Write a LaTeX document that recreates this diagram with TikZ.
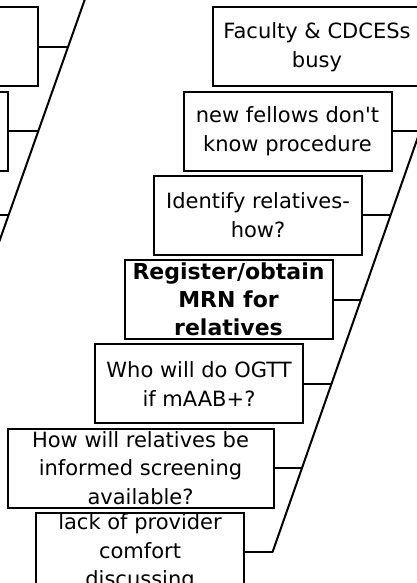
\documentclass[tikz,border=0pt]{standalone}
\usepackage{fontspec}
\setmainfont{DejaVu Sans}
\tikzset{
	cause/.style={draw, line width=2pt, minimum width=208pt, minimum height=79pt, inner sep=0pt, align=center, font=\fontsize{21}{28.5}\selectfont},
	bone/.style={line width=2pt},
}
\begin{document}
\begin{tikzpicture}[x=1pt,y=-1pt]
				\useasboundingbox (0,0) rectangle (417,583);
				\clip (0,0) rectangle (417,583);
				% left fishbone (mostly cut off)
				\coordinate (Qtop) at (91.7,-20);
				\coordinate (Qa) at (68,47);
				\coordinate (Qb) at (38.25,131.2);
				\coordinate (Qc) at (8.5,215.4);
				\coordinate (Qbot) at (-21.4,300);
				\node[cause] (La) at (-66.5,47) {};
				\node[cause] (Lb) at (-96,131.2) {};
				\node[cause] (Lc) at (-125.5,215.4) {};
				\draw[bone] (Qtop) -- (Qbot);
				\draw[bone] (La.east) -- (Qa);
				\draw[bone] (Lb.east) -- (Qb);
				\draw[bone] (Lc.east) -- (Qc);
				% right fishbone
				\coordinate (P0) at (449.5,47);
				\coordinate (P1) at (420,131.2);
				\coordinate (P2) at (390.5,215.4);
				\coordinate (P3) at (361,299.6);
				\coordinate (P4) at (331.5,383.8);
				\coordinate (P5) at (302,468);
				\coordinate (P6) at (272.5,552.2);
				\node[cause] (busy) at (317,47) {Faculty \& CDCESs\\busy};
				\node[cause] (fellows) at (287.5,131.2) {new fellows don\textquotesingle t\\know procedure};
				\node[cause] (identify) at (258,215.4) {Identify relatives-\\how?};
				\node[cause, font=\fontsize{22}{28}\selectfont\bfseries] (register) at (228.5,299.6) {Register/obtain\\MRN for\\relatives};
				\node[cause] (ogtt) at (199,383.8) {Who will do OGTT\\if mAAB+?};
				\node[cause, minimum width=266pt] (inform) at (140.5,468) {How will relatives be\\informed screening\\available?};
				\node[cause] (comfort) at (140,552.2) {lack of provider\\comfort\\discussing};
				\draw[bone] (P0) -- (P6);
				\draw[bone] (busy.east) -- (P0);
				\draw[bone] (fellows.east) -- (P1);
				\draw[bone] (identify.east) -- (P2);
				\draw[bone] (register.east) -- (P3);
				\draw[bone] (ogtt.east) -- (P4);
				\draw[bone] (inform.east) -- (P5);
				\draw[bone] (comfort.east) -- (P6);
\end{tikzpicture}
\end{document}
